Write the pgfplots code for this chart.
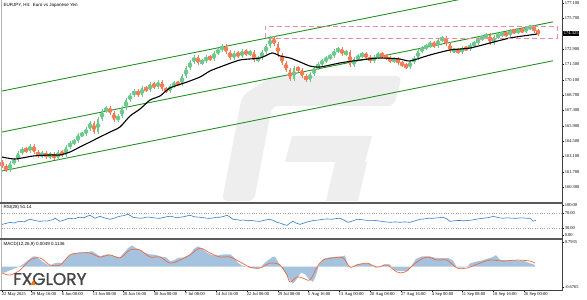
\documentclass[border=0pt]{standalone}
\usepackage{pgfplots}
\usepackage{pgfplotstable}
\pgfplotsset{compat=1.18}
\usepackage{fontspec}
\setmainfont{Liberation Sans}
\newfontfamily\scalefam{Liberation Serif}
\newfontfamily\logofont{Poppins}[FakeBold=1.2]
\definecolor{upc}{RGB}{110,200,140}
\definecolor{dnc}{RGB}{240,125,85}
\definecolor{chan}{RGB}{30,145,30}
\definecolor{boxc}{RGB}{240,140,165}
\definecolor{rsic}{RGB}{50,125,195}
\definecolor{histc}{RGB}{165,195,222}
\definecolor{sigc}{RGB}{240,105,60}
\definecolor{wm}{RGB}{238,238,238}
\definecolor{logoc}{RGB}{70,70,70}
\newcommand{\sfs}{\scalefam\fontsize{4.5}{5}\selectfont}
\newcommand{\tfs}{\fontsize{4.5}{5}\selectfont}

\pgfplotstableread{
x o c
0 162.60 162.23
4 162.23 161.87
8 161.87 162.51
12 162.51 162.78
16 162.78 163.42
20 163.42 163.78
24 163.78 163.60
28 163.60 164.06
32 164.06 163.51
36 163.51 163.14
40 163.14 163.42
44 163.42 163.05
48 163.05 163.33
52 163.33 162.96
56 162.96 163.51
60 163.51 163.24
64 163.24 163.97
68 163.97 164.33
72 164.33 164.51
76 164.51 165.06
80 165.06 165.15
84 165.15 165.61
88 165.61 166.15
92 166.15 165.33
96 165.33 166.52
100 166.52 167.25
104 167.25 167.52
108 167.52 167.07
112 167.07 166.43
116 166.43 166.79
120 166.79 167.52
124 167.52 168.25
128 168.25 168.71
132 168.71 169.07
136 169.07 168.71
140 168.71 169.35
144 169.35 169.16
148 169.16 169.71
152 169.71 169.44
156 169.44 169.89
160 169.89 169.26
164 169.26 169.07
168 169.07 169.53
172 169.53 169.80
176 169.80 169.71
180 169.71 170.44
184 170.44 171.17
188 171.17 171.72
192 171.72 172.17
196 172.17 171.63
200 171.63 171.81
204 171.81 172.17
208 172.17 171.99
212 171.99 172.54
216 172.54 172.81
220 172.81 173.18
224 173.18 172.63
228 172.63 172.08
232 172.08 172.54
236 172.54 172.27
240 172.27 172.72
244 172.72 172.45
248 172.45 172.63
252 172.63 171.90
256 171.90 172.08
260 172.08 172.63
264 172.63 173.18
268 173.18 173.85
272 173.85 173.36
276 173.36 172.36
280 172.36 171.63
284 171.63 170.99
288 170.99 170.17
292 170.17 171.17
296 171.17 170.99
300 170.99 170.44
304 170.44 170.08
308 170.08 170.62
312 170.62 171.17
316 171.17 171.54
320 171.54 171.81
324 171.81 172.08
328 172.08 172.27
332 172.27 172.72
336 172.72 172.90
340 172.90 172.45
344 172.45 172.63
348 172.63 171.44
352 171.44 171.99
356 171.99 172.27
360 172.27 172.45
364 172.45 172.17
368 172.17 171.81
372 171.81 172.17
376 172.17 172.45
380 172.45 172.27
384 172.27 172.08
388 172.08 171.81
392 171.81 171.99
396 171.99 171.63
400 171.63 171.44
404 171.44 171.26
408 171.26 171.72
412 171.72 172.08
416 172.08 172.72
420 172.72 172.99
424 172.99 173.18
428 173.18 173.45
432 173.45 173.18
436 173.18 173.72
440 173.72 173.91
444 173.91 173.36
448 173.36 172.72
452 172.72 172.81
456 172.81 172.63
460 172.63 172.99
464 172.99 172.90
468 172.90 173.27
472 173.27 173.45
476 173.45 173.82
480 173.82 174.00
484 174.00 174.18
488 174.18 173.45
492 173.45 174.00
496 174.00 174.18
500 174.18 174.36
504 174.36 174.18
508 174.18 174.55
512 174.55 174.45
516 174.45 174.64
520 174.64 174.55
524 174.55 174.82
528 174.82 174.91
532 174.91 174.55
536 174.55 174.33
}\candles

\pgfplotsset{
  panel/.style={scale only axis, width=560pt, xmin=0, xmax=560,
    axis line style={draw=none}, tick style={black, line width=0.4pt},
    major tick length=2pt, tick align=outside, ytick pos=right, yticklabel pos=right,
    yticklabel style={font=\sfs, anchor=west, inner sep=0.6pt},
    xtick=\empty, clip mode=individual},
  cbar/.style 2 args={#1, only marks, mark=none, error bars/.cd, y dir=both, y explicit, error mark=none, error bar style={#1, line width=#2}},
}

\begin{document}
\begin{tikzpicture}
\path[use as bounding box] (0,0) rectangle (587pt,300pt);
% watermark
\begin{scope}[shift={(0pt,300pt)}, x=1pt, y=-1pt]
\fill[wm, rounded corners=6pt] (272,76) -- (402,76) -- (394,106) -- (272,106) -- (254,201) -- (222,201) -- (242,96) -- cycle;
\fill[wm] (292,136) -- (372,136) -- (365,162) -- (285,162) -- cycle;
\fill[wm] (335,162) -- (367,162) -- (358,201) -- (326,201) -- cycle;
\end{scope}

% main price panel
\begin{axis}[panel, at={(2pt,97pt)}, anchor=south west, height=202pt,
  ymin=158.858, ymax=177.281,
  ytick={160.3,161.7,163.1,164.5,165.9,167.3,168.7,170.1,171.5,172.9,175.7,177.1},
  yticklabels={160.300,161.700,163.100,164.500,165.900,167.300,168.700,170.100,171.500,172.900,175.700,177.100}]
\addplot[chan, line width=0.9pt] coordinates {(0,169.07) (551,179.12)};
\addplot[chan, line width=0.9pt] coordinates {(0,165.33) (551,175.38)};
\addplot[chan, line width=0.9pt] coordinates {(0,161.78) (551,171.83)};
\addplot[restrict expr to domain={\thisrow{c}-\thisrow{o}}{0.0001:100}, cbar={upc}{0.5pt}] table[x=x, y expr={(\thisrow{o}+\thisrow{c})/2}, y error expr={abs(\thisrow{c}-\thisrow{o})/2+0.2}] {\candles};
\addplot[restrict expr to domain={\thisrow{c}-\thisrow{o}}{-100:-0.0001}, cbar={dnc}{0.5pt}] table[x=x, y expr={(\thisrow{o}+\thisrow{c})/2}, y error expr={abs(\thisrow{c}-\thisrow{o})/2+0.2}] {\candles};
\addplot[restrict expr to domain={\thisrow{c}-\thisrow{o}}{0.0001:100}, cbar={upc}{1.5pt}] table[x=x, y expr={(\thisrow{o}+\thisrow{c})/2}, y error expr={abs(\thisrow{c}-\thisrow{o})/2+0.04}] {\candles};
\addplot[restrict expr to domain={\thisrow{c}-\thisrow{o}}{-100:-0.0001}, cbar={dnc}{1.5pt}] table[x=x, y expr={(\thisrow{o}+\thisrow{c})/2}, y error expr={abs(\thisrow{c}-\thisrow{o})/2+0.04}] {\candles};
\addplot[black, line width=1.1pt, smooth, tension=0.4] coordinates {
(0,163.05) (13,162.87) (31,163.14) (48,163.24) (58,163.24) (68,163.51) (78,163.97) (88,164.42) (98,164.88) (108,165.33) (118,165.79) (128,166.79) (138,167.43) (148,168.25) (158,168.62) (168,169.35) (185,169.89) (198,170.35) (208,170.90) (218,171.26) (238,171.90) (258,172.08) (270,172.54) (278,172.27) (288,172.08) (298,171.72) (308,171.35) (318,171.26) (338,171.63) (358,171.90) (378,172.08) (398,171.99) (408,171.81) (428,172.36) (448,172.81) (468,172.99) (488,173.45) (508,173.91) (528,174.18) (535,174.27)};
\draw[boxc, dash pattern=on 5pt off 3pt, line width=0.8pt] (axis cs:263,173.91) rectangle (axis cs:555,175.00);
\node[fill=black, text=white, font=\sfs, inner sep=0.7pt, anchor=west] at (axis cs:561,174.325) {174.325};
\node[anchor=north west, font=\tfs, inner sep=0pt] at (rel axis cs:0,1) [xshift=1.5pt, yshift=-2pt] {EURJPY, H4:\ \ Euro vs Japanese Yen};
\end{axis}

% RSI panel
\begin{axis}[panel, at={(2pt,61pt)}, anchor=south west, height=36pt, ymin=1.5, ymax=97.5,
  ytick={12.2,30,70,92.2}, yticklabels={0.00,30.00,70.00,100.00}]
\addplot[gray!70, dotted, line width=0.4pt] coordinates {(0,30) (560,30)};
\addplot[gray!70, dotted, line width=0.4pt] coordinates {(0,70) (560,70)};
\addplot[rsic, line width=0.6pt] coordinates {
(0,40.5) (4,43) (8,45.9) (12,44) (15,47) (18,48.6) (22,47) (25,51) (28,54.1) (31,52) (34,50) (38,48.6) (42,50) (45,49) (48,51.4) (51,53) (53,56.8) (56,52) (58,48.6) (62,52) (65,55) (68,56.8) (72,55) (75,58) (78,59.5) (82,58) (85,62) (88,64.9) (91,60) (93,56.8) (96,60) (98,62.2) (102,58) (105,56) (108,54.1) (112,57) (115,60) (118,62.2) (122,64) (126,67.6) (129,63) (131,59.5) (135,58) (138,56.8) (142,58) (145,60) (148,59.5) (152,58) (155,57) (158,56.8) (162,59) (165,61) (168,62.2) (172,60) (175,58) (178,59.5) (182,61) (185,63) (188,64.9) (192,61) (195,60) (198,59.5) (202,58) (205,57) (208,56.8) (212,58) (215,59.5) (218,59.5) (222,62) (225,64.9) (228,60) (231,54.1) (235,53) (238,51.4) (242,52) (245,50) (248,51.4) (252,50) (255,49) (258,48.6) (262,51) (265,53) (268,54.1) (272,50) (275,45.9) (278,44) (282,40) (285,37.8) (288,44) (291,48.6) (294,44) (298,40.5) (302,44) (305,47) (308,48.6) (312,51) (316,52) (321,54.1) (325,55) (330,54) (334,56) (338,56.8) (342,52) (346,45.9) (350,49) (355,54.1) (360,53) (365,51) (371,51.4) (376,50) (381,48) (388,45.9) (393,47) (398,46) (403,47) (408,45.9) (413,50) (418,54.1) (422,55) (427,57) (431,56.8) (436,58) (441,59.5) (445,55) (448,48.6) (452,50) (457,51) (462,50) (468,51.4) (472,53) (476,55) (481,56.8) (485,58) (488,59.5) (491,62.2) (494,60) (497,58) (501,56.8) (505,58) (510,57) (515,56.8) (520,58) (524,57) (528,56.8) (531,49) (534,51.1)};
\node[anchor=north west, font=\tfs, inner sep=0pt] at (rel axis cs:0,1) [xshift=1.5pt, yshift=-2pt] {RSI(28) 51.14};
\end{axis}

% MACD panel
\begin{axis}[panel, at={(2pt,10pt)}, anchor=south west, height=51pt, ymin=-0.768, ymax=0.899,
  ytick={-0.6765,0.7935}, yticklabels={-0.6765,0.7935},
  xtick={0,29,60,91,121,152,183,214,245,276,306,337,368,399,430,460,491,522},
  xticklabels={22 May 2025,29 May 16:00,6 Jun 00:00,13 Jun 08:00,20 Jun 16:00,30 Jun 00:00,7 Jul 08:00,14 Jul 16:00,22 Jul 00:00,29 Jul 08:00,5 Aug 16:00,13 Aug 00:00,20 Aug 08:00,27 Aug 16:00,4 Sep 00:00,11 Sep 08:00,18 Sep 16:00,26 Sep 00:00},
  xtick pos=left,
  xticklabel style={font=\sfs, anchor=north west, inner sep=0.5pt, xshift=-0.8pt}]
\addplot[fill=histc, draw=none] coordinates {
(0,-0.2) (3,-0.2) (6,-0.15) (10,-0.1) (14,-0.05) (17,0) (20,0.05) (24,0.15) (28,0.25) (31,0.33) (34,0.33) (37,0.25) (41,0.15) (45,0.07) (48,0.03) (52,0.1) (56,0.13) (60,0.1) (64,0.25) (68,0.38) (72,0.44) (78,0.46) (85,0.47) (90,0.5) (94,0.42) (98,0.33) (102,0.38) (106,0.4) (110,0.36) (114,0.33) (118,0.3) (122,0.45) (126,0.6) (130,0.69) (134,0.6) (138,0.55) (142,0.45) (148,0.4) (154,0.38) (158,0.33) (164,0.3) (168,0.18) (172,0.2) (176,0.28) (182,0.3) (188,0.4) (192,0.58) (196,0.66) (200,0.58) (205,0.45) (210,0.37) (216,0.36) (222,0.4) (228,0.4) (232,0.3) (236,0.12) (240,0.03) (244,0) (248,-0.05) (254,-0.07) (258,-0.05) (262,0.1) (266,0.2) (270,0.3) (273,0.33) (276,0.15) (280,-0.05) (284,-0.25) (288,-0.45) (291,-0.56) (294,-0.45) (296,-0.35) (299,-0.2) (303,-0.25) (307,-0.42) (311,-0.5) (314,-0.3) (317,0.05) (321,0.25) (328,0.3) (335,0.32) (341,0.34) (343,0.36) (346,0.05) (350,-0.02) (355,0.08) (362,0.1) (368,0.1) (372,-0.03) (378,-0.02) (382,0.07) (388,0.07) (392,-0.12) (398,-0.15) (406,-0.15) (410,0.05) (414,0.25) (420,0.33) (428,0.33) (434,0.28) (440,0.27) (446,0.28) (451,0.2) (455,-0.03) (460,-0.04) (465,-0.02) (468,0.1) (474,0.16) (480,0.2) (486,0.26) (490,0.3) (494,0.37) (498,0.22) (505,0.2) (512,0.2) (518,0.2) (522,0.18) (527,0.12) (533,0.05)} \closedcycle;
\addplot[sigc, line width=0.7pt, smooth, tension=0.5] coordinates {
(0,-0.21) (8,-0.28) (18,-0.12) (28,0.21) (38,0.28) (48,0.05) (58,0.05) (68,0.38) (78,0.44) (88,0.44) (98,0.31) (108,0.38) (118,0.28) (128,0.54) (138,0.54) (148,0.31) (158,0.31) (168,0.11) (178,0.21) (188,0.38) (198,0.60) (208,0.44) (218,0.31) (228,0.31) (238,0.15) (248,-0.02) (258,-0.05) (268,0.11) (278,0.05) (285,-0.28) (288,-0.51) (295,-0.34) (301,-0.38) (308,-0.44) (315,-0.02) (321,0.21) (331,0.28) (341,0.28) (348,-0.02) (355,0.05) (365,0.11) (375,-0.02) (385,0.05) (395,-0.18) (403,-0.18) (415,0.15) (425,0.31) (435,0.21) (445,0.21) (455,-0.05) (465,-0.05) (478,0.11) (488,0.21) (501,0.18) (515,0.21) (528,0.18) (533,0.11)};
\node[anchor=north west, font=\tfs, inner sep=0pt] at (rel axis cs:0,1) [xshift=1.5pt, yshift=-3pt] {MACD(12,26,9) 0.0049 0.1136};
\end{axis}

% frame
\begin{scope}[shift={(0pt,300pt)}, x=1pt, y=-1pt]
\draw[gray!60, line width=0.6pt] (1,0) -- (1,290);
\draw[black!75, line width=0.6pt] (562,0) -- (562,291);
\draw[black!65, line width=1.1pt] (0,203) -- (562,203);
\draw[black!65, line width=1.1pt] (0,239) -- (562,239);
\draw[black!75, line width=0.6pt] (0,290) -- (562,290);
\node[anchor=base west, inner sep=0pt, text=logoc, font=\logofont\fontsize{17}{17}\selectfont] at (13,285) {FXGLORY};
\fill[orange!90!red] (30.5,285) -- (35.5,285) -- (33.5,279.5) -- cycle;
\end{scope}
\end{tikzpicture}
\end{document}
